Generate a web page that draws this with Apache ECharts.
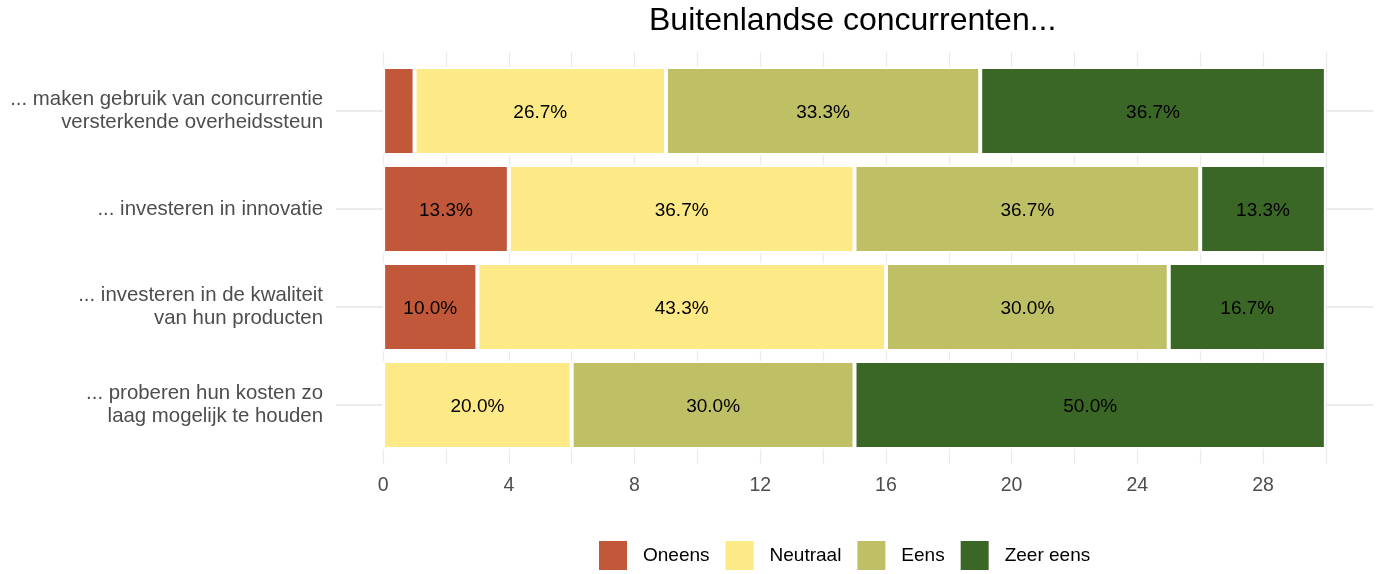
<!DOCTYPE html>
<html>
<head>
<meta charset="utf-8">
<script src="https://cdn.jsdelivr.net/npm/echarts@6/dist/echarts.min.js"></script>
<style>
  html, body { margin: 0; padding: 0; background: #fff; }
  #chart { width: 1386px; height: 574px; }
</style>
</head>
<body>
<div id="chart"></div>
<script>
// --- Data ---
const categories = [
  '... maken gebruik van concurrentie\nversterkende overheidssteun',
  '... investeren in innovatie',
  '... investeren in de kwaliteit\nvan hun producten',
  '... proberen hun kosten zo\nlaag mogelijk te houden',
];
const oneens   = [1, 4, 3, 0];
const neutraal = [8, 11, 13, 6];
const eens     = [10, 11, 9, 9];
const zeerEens = [11, 4, 5, 15];

const seriesNames  = ['Oneens', 'Neutraal', 'Eens', 'Zeer eens'];
const seriesColors = ['#c1583a', '#fde986', '#bfbf66', '#3a6626'];

const xTickLabels = [0, 4, 8, 12, 16, 20, 24, 28];
const xGridValues = [0, 2, 4, 6, 8, 10, 12, 14, 16, 18, 20, 22, 24, 26, 28, 30];
const yGridValues = [1, 2, 3, 4];

const FONT = '"Liberation Sans", Arial, sans-serif';

const values = [oneens, neutraal, eens, zeerEens];
const totals = categories.map((_, i) => values.reduce((s, arr) => s + arr[i], 0));

const chart = echarts.init(document.getElementById('chart'));

const barSeries = seriesNames.map((name, k) => ({
  name,
  type: 'bar',
  stack: 'total',
  xAxisIndex: 0,
  yAxisIndex: 0,
  barWidth: 88,
  z: 3,
  data: values[k],
  itemStyle: { color: seriesColors[k], borderColor: '#fff', borderWidth: 2 },
  label: {
    show: true,
    position: 'inside',
    color: '#000',
    fontFamily: FONT,
    fontSize: 19,
    offset: [0, 2],
    formatter: p => {
      const pct = p.value / totals[p.dataIndex] * 100;
      return pct >= 5 ? pct.toFixed(1) + '%' : '';
    },
  },
  emphasis: { disabled: true },
}));

// gridlines live on a second, slightly taller grid (ggplot-style panel)
const gridSeries = {
  type: 'line',
  xAxisIndex: 1,
  yAxisIndex: 1,
  data: [],
  z: 0,
  silent: true,
  markLine: {
    z: 0,
    silent: true,
    symbol: 'none',
    animation: false,
    label: { show: false },
    lineStyle: { color: '#ebebeb', type: 'solid', width: 1.2 },
    data: [
      ...xGridValues.map(v => ({ xAxis: v })),
      ...yGridValues.map(v => ({ yAxis: v, lineStyle: { width: 2 } })),
    ],
  },
};

chart.setOption({
  animation: false,
  textStyle: { fontFamily: FONT },
  title: {
    text: 'Buitenlandse concurrenten...',
    left: 649,
    top: 5,
    padding: 0,
    textStyle: { fontFamily: FONT, fontSize: 32, fontWeight: 'normal', color: '#000' },
  },
  legend: {
    data: seriesNames,
    left: 597,
    top: 539,
    padding: 0,
    icon: 'rect',
    itemWidth: 30,
    itemHeight: 31,
    itemGap: 14,
    selectedMode: false,
    textStyle: { fontFamily: FONT, fontSize: 19, color: '#000', padding: [0, 0, 0, 10] },
  },
  grid: [
    { left: 336, right: 13, top: 62, bottom: 120 },
    { left: 336, right: 13, top: 52, bottom: 110 },
  ],
  xAxis: [
    { type: 'value', gridIndex: 0, min: -1.5, max: 31.5, show: false },
    {
      type: 'value', gridIndex: 1, min: -1.5, max: 31.5,
      axisLine: { show: false },
      axisTick: { show: false },
      splitLine: { show: false },
      axisLabel: {
        customValues: xTickLabels,
        color: '#4d4d4d',
        fontFamily: FONT,
        fontSize: 19.5,
        margin: 12,
      },
    },
  ],
  yAxis: [
    {
      type: 'category', gridIndex: 0, inverse: true, data: categories,
      axisLine: { show: false },
      axisTick: { show: false },
      splitLine: { show: false },
      axisLabel: {
        color: '#4d4d4d',
        fontFamily: FONT,
        fontSize: 20.4,
        lineHeight: 23,
        align: 'right',
        margin: 13,
        padding: [5, 0, 0, 0],
      },
    },
    { type: 'value', gridIndex: 1, min: 0.4, max: 4.6, inverse: true, show: false },
  ],
  series: [gridSeries, ...barSeries],
});
</script>
</body>
</html>
